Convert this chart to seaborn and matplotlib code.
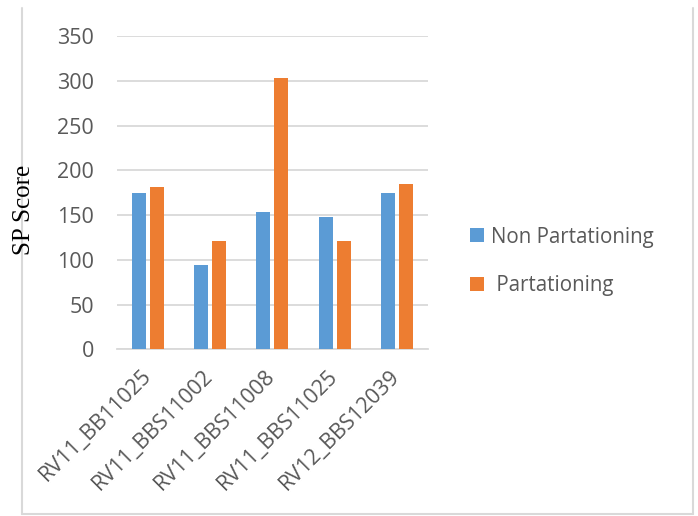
import matplotlib
matplotlib.use("Agg")
import matplotlib.pyplot as plt
from matplotlib.lines import Line2D
from matplotlib.patches import Patch
import seaborn as sns
import pandas as pd

# SP scores per reference sequence, with and without partitioning
categories = ["RV11_BB11025", "RV11_BBS11002", "RV11_BBS11008", "RV11_BBS11025", "RV12_BBS12039"]
non_partitioning = [175, 94, 153, 148, 175]
partitioning = [181, 121, 303, 121, 185]
series_names = ["Non Partationing", "Partationing"]
legend_labels = ["Non Partationing", " Partationing"]
y_ticks = [0, 50, 100, 150, 200, 250, 300, 350]

colors = ["#5B9BD5", "#ED7D31"]
grid_gray = "#D9D9D9"
text_gray = "#595959"

df = pd.DataFrame({
    "category": categories * 2,
    "series": [series_names[0]] * len(categories) + [series_names[1]] * len(categories),
    "score": non_partitioning + partitioning,
})

sns.set_theme(style="white")
plt.rcParams["font.family"] = ["Open Sans", "DejaVu Sans"]

fig = plt.figure(figsize=(6.98, 5.16), dpi=100)
ax = fig.add_axes([0.1672, 0.3231, 0.4460, 0.6071])

sns.barplot(data=df, x="category", y="score", hue="series", order=categories,
            hue_order=series_names, palette=colors, width=0.58, gap=0.22,
            saturation=1, linewidth=0, legend=False, ax=ax, zorder=3)

ax.set_ylim(0, 350)
ax.set_xlim(-0.5, len(categories) - 0.5)
ax.set_yticks(y_ticks)
ax.set_yticklabels([str(t) for t in y_ticks])
ax.yaxis.grid(True, color=grid_gray, linewidth=1.3, zorder=0)
ax.xaxis.grid(False)
ax.set_axisbelow(True)
for side in ["top", "right", "left"]:
    ax.spines[side].set_visible(False)
ax.spines["bottom"].set_color(grid_gray)
ax.spines["bottom"].set_linewidth(1.3)
ax.tick_params(axis="both", length=0, colors=text_gray, labelsize=15.5)
ax.tick_params(axis="y", pad=16.3)
ax.tick_params(axis="x", pad=17)
for lab in ax.get_xticklabels():
    lab.set_rotation(45)
    lab.set_ha("right")
    lab.set_va("center")
    lab.set_rotation_mode("anchor")
ax.set_xlabel("")
ax.set_ylabel("")

fig.text(24 / 698, 1 - 210 / 516, "SP Score", rotation=90, ha="center", va="center",
         family=["Liberation Serif", "DejaVu Serif"], fontsize=18, color="black")

handles = [Patch(facecolor=c, edgecolor="none") for c in colors]
fig.legend(handles, legend_labels, loc="center left",
           bbox_to_anchor=(470 / 698, 1 - 261.5 / 516), frameon=False,
           fontsize=14.8, handlelength=0.68, handleheight=0.68, handletextpad=0.35,
           labelspacing=1.35, borderpad=0, borderaxespad=0, labelcolor=text_gray)

# light outer frame of the chart area
for x0, y0, x1, y1 in [(22, 8, 22, 514), (693, 8, 693, 514), (22, 514, 693, 514)]:
    fig.add_artist(Line2D([x0 / 698, x1 / 698], [1 - y0 / 516, 1 - y1 / 516],
                          color=grid_gray, linewidth=1.5, transform=fig.transFigure))

fig.savefig("out.png", dpi=100)
